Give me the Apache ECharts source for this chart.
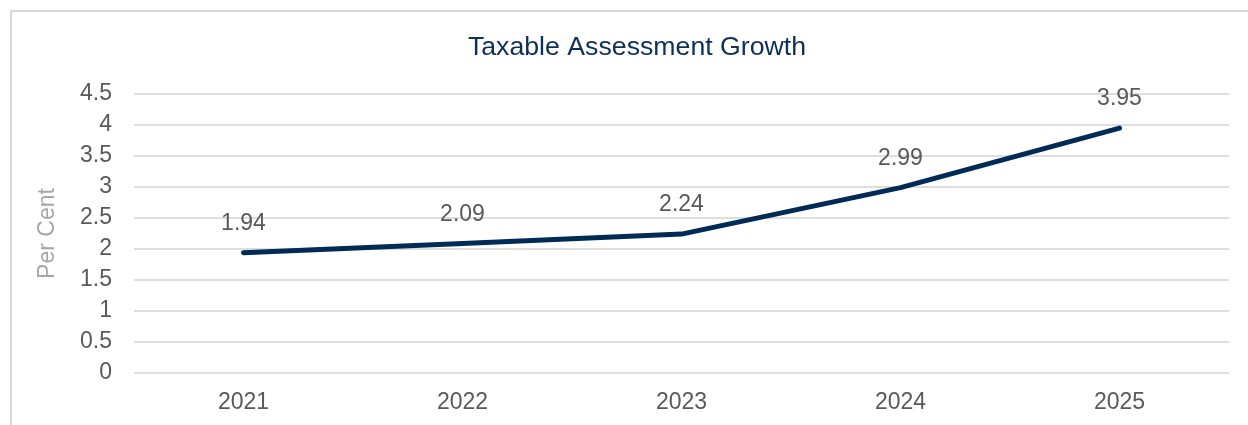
<!DOCTYPE html>
<html>
<head>
<meta charset="utf-8">
<script src="https://cdn.jsdelivr.net/npm/echarts@6/dist/echarts.min.js"></script>
<style>
  html, body { margin: 0; padding: 0; background: #ffffff; }
  #chart { width: 1248px; height: 425px; }
</style>
</head>
<body>
<div id="chart"></div>
<script>
// Yearly growth of taxable assessment, per cent
const years = ['2021', '2022', '2023', '2024', '2025'];
const growth = [1.94, 2.09, 2.24, 2.99, 3.95];
const yTicks = { min: 0, max: 4.5, interval: 0.5 };

const FONT = '"Liberation Sans", Arial, sans-serif';

const chart = echarts.init(document.getElementById('chart'), null, { renderer: 'canvas' });

chart.setOption({
  backgroundColor: '#ffffff',
  animation: false,
  textStyle: { fontFamily: FONT },
  graphic: [{
    type: 'rect',
    shape: { x: 11, y: 11, width: 1400, height: 600 },
    style: { fill: 'none', stroke: '#d9d9d9', lineWidth: 2 },
    silent: true
  }],
  title: {
    text: 'Taxable Assessment Growth',
    left: 632,
    top: 29,
    textAlign: 'center',
    textStyle: { fontFamily: FONT, fontSize: 26.7, fontWeight: 'normal', color: '#0e2f5a' }
  },
  grid: { left: 134, right: 19, top: 94, bottom: 52, containLabel: false },
  xAxis: {
    type: 'category',
    data: years,
    boundaryGap: true,
    axisLine: { show: false },
    axisTick: { show: false },
    axisLabel: { color: '#595959', fontSize: 23, fontFamily: FONT, margin: 18 }
  },
  yAxis: {
    type: 'value',
    min: yTicks.min,
    max: yTicks.max,
    interval: yTicks.interval,
    name: 'Per Cent',
    nameLocation: 'middle',
    nameGap: 75,
    nameRotate: 90,
    nameTextStyle: { color: '#a6a6a6', fontSize: 23, fontFamily: FONT },
    axisLine: { show: false },
    axisTick: { show: false },
    axisLabel: { color: '#595959', fontSize: 23, fontFamily: FONT, margin: 22 },
    splitLine: { lineStyle: { color: '#dedede', width: 2 } }
  },
  series: [{
    type: 'line',
    data: growth,
    showSymbol: true,
    symbol: 'circle',
    symbolSize: 1,
    itemStyle: { color: 'rgba(0,0,0,0)' },
    lineStyle: { color: '#002b57', width: 5, cap: 'round', join: 'round' },
    label: {
      show: true,
      position: 'top',
      distance: 17,
      color: '#595959',
      fontSize: 23,
      fontFamily: FONT
    }
  }]
});
</script>
</body>
</html>
